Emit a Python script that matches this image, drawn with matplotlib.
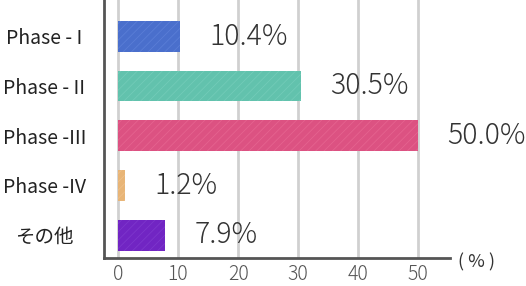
import numpy as np
import matplotlib.pyplot as plt

plt.rcParams['font.family'] = ['Noto Sans CJK JP', 'DejaVu Sans']
plt.rcParams['hatch.linewidth'] = 0.6

phases = ['Phase - I', 'Phase - II', 'Phase -III', 'Phase -IV', 'その他']
shares = [10.4, 30.5, 50.0, 1.2, 7.9]
colors = ['#4a6fcc', '#62c2ad', '#dc5282', '#e8b577', '#7125c3']
hatch_colors = ['#5a7dd6', '#72cbb8', '#e5638f', '#eec08a', '#7d36cc']

fig = plt.figure(figsize=(5.26, 2.86), dpi=100)
ax = fig.add_axes([104/526, 28/286, 346/526, 258/286])

y = np.arange(len(phases))
for i in range(len(phases)):
    ax.barh(y[i], shares[i], height=0.62, color=colors[i],
            edgecolor=hatch_colors[i], hatch='////', linewidth=0, zorder=3)
    ax.annotate(f'{shares[i]:.1f}%', (shares[i], y[i]), xytext=(29, 0),
                textcoords='offset pixels', va='center', ha='left',
                fontsize=20.5, fontweight='light', color='#333333',
                annotation_clip=False)

ax.set_xlim(-2.33, 55.3)
ax.set_ylim(4.46, -0.73)
ax.set_xticks([0, 10, 20, 30, 40, 50])
ax.set_yticks(y)
ax.set_yticklabels(phases, fontsize=14, color='#222222', ha='center')
ax.tick_params(axis='y', length=0, pad=43)
ax.tick_params(axis='x', length=0, pad=4, labelsize=14, labelcolor='#555555')
for lab in ax.get_xticklabels():
    lab.set_fontweight('light')

ax.grid(axis='x', color='#d0d0d0', linewidth=2, zorder=0)
for s in ['top', 'right']:
    ax.spines[s].set_visible(False)
for s in ['left', 'bottom']:
    ax.spines[s].set_color('#555555')
    ax.spines[s].set_linewidth(2)

fig.text(458/526, 1 - 262/286, '( % )', fontsize=13, color='#333333',
         ha='left', va='center')

fig.savefig('out.png', dpi=100)
